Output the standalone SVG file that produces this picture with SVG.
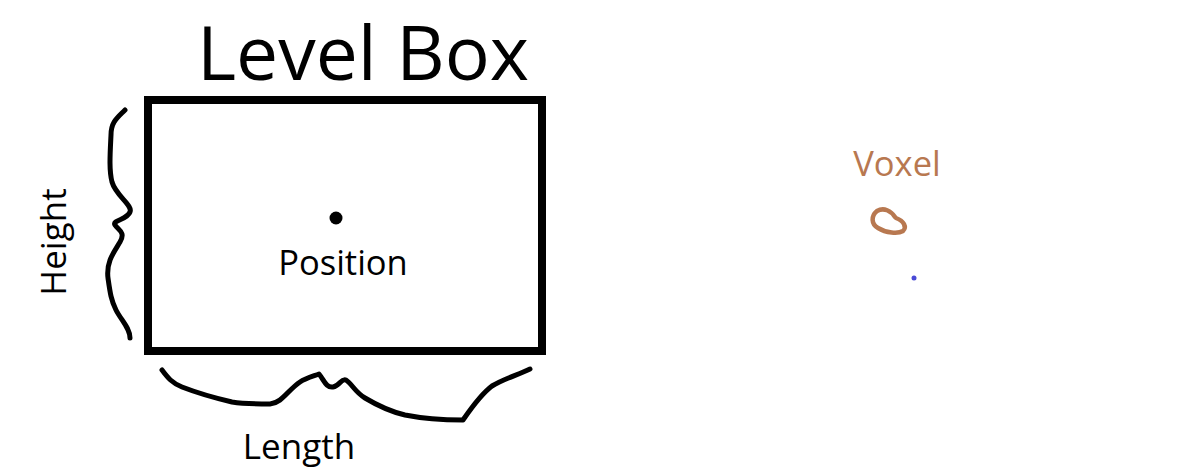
<svg xmlns="http://www.w3.org/2000/svg" width="1177" height="474" viewBox="0 0 1177 474">
<style>
.t{font-family:"Open Sans","Noto Sans",sans-serif;fill:#000}
.ink{fill:none;stroke:#000;stroke-width:5;stroke-linecap:round;stroke-linejoin:round}
</style>
<rect width="1177" height="474" fill="#fff"/>
<g id="level-box">
<rect x="148" y="100" width="394" height="251" fill="none" stroke="#000" stroke-width="8"/>
<text class="t" x="363" y="80" font-size="75" text-anchor="middle">Level Box</text>
</g>
<g id="position">
<circle cx="336" cy="218" r="6.5" fill="#000"/>
<text class="t" x="343" y="275" font-size="34.5" text-anchor="middle">Position</text>
</g>
<g id="height">
<path class="ink" d="M125,110 C117,118 111,122 111,135 C110,155 109,170 112,182 C116,196 133,205 130,212 C127,220 112,220 115,225 C118,230 126,232 120,242 C114,252 106,262 108,278 C110,292 111,300 116,310 C121,320 130,328 130,338"/>
<text class="t" x="66" y="242" font-size="35" text-anchor="middle" transform="rotate(-90 66 242)">Height</text>
</g>
<g id="length">
<path class="ink" d="M162,370 C168,378 172,383 182,387 C200,394 215,398 232,402 C245,404 258,404 270,404 C282,403 288,390 300,382 C306,378 314,376 319,374 C324,380 326,388 333,387 C340,386 341,378 346,380 C352,384 355,392 365,398 C380,407 392,412 405,415 C425,419 445,420 463,420 C470,410 480,395 492,386 C505,378 518,375 530,369"/>
<text class="t" x="299" y="459" font-size="35" text-anchor="middle">Length</text>
</g>
<g id="voxel">
<text x="897" y="176" font-size="34.5" text-anchor="middle" font-family="Open Sans, Noto Sans, sans-serif" fill="#b87850">Voxel</text>
<path d="M895,217 C891,211 884,207 877,211 C871,216 871,224 878,228 C886,233 898,234 903,231 C907,227 904,221 896,218" fill="none" stroke="#b87850" stroke-width="4.5" stroke-linecap="round" stroke-linejoin="round"/>
<circle cx="914" cy="278" r="2.5" fill="#4a4ad6"/>
</g>
<g id="connectors"/>
</svg>
